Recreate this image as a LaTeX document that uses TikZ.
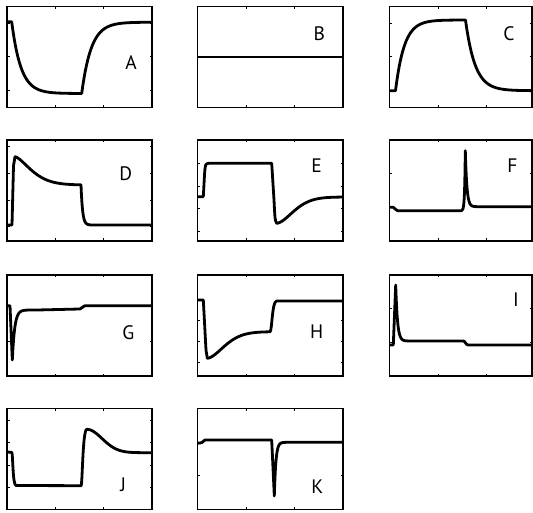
\documentclass[tikz,border=0pt]{standalone}
\usepackage{fontspec}
\setmainfont{PT Sans}
\newcommand{\plotbox}[2]{%
  \draw[frame] (0,0) rectangle (#1,101);
  \foreach \t in {48.3,96.7}{
    \draw[tick] (\t,0) -- (\t,2.5);
    \draw[tick] (\t,101) -- (\t,98.5);
  }
  \foreach \t in {#2}{
    \draw[tick] (0,\t) -- (2.5,\t);
    \draw[tick] (#1,\t) -- (#1-2.5,\t);
  }
}

\begin{document}
\begin{tikzpicture}[
    x=1pt, y=-1pt,
    frame/.style={line width=1.7pt},
    tick/.style={line width=0.5pt},
    curve/.style={line width=2.8pt, line join=round},
    lbl/.style={inner sep=0pt, font=\fontsize{19.5}{20}\selectfont}
  ]
  \useasboundingbox (0,0) rectangle (533,513);

  % A
  \begin{scope}[shift={(7,6.5)}]
    \plotbox{145}{16.8,50.2,83.5}
    \draw[curve] (0,15.3) -- (4.7,15.3)
      -- plot[domain=4.7:74.7,samples=60] (\x,{87-71.7*exp(-(\x-4.7)/9.2)})
      -- plot[domain=74.7:145,samples=60] (\x,{15.7+71.3*exp(-(\x-74.7)/9.5)});
  \end{scope}
  \node[lbl] (labA) at (131,62.3) {A};

  % B
  \begin{scope}[shift={(197.5,6.5)}]
    \plotbox{145.5}{50.6}
    \draw[curve] (0,50.6) -- (145.5,50.6);
  \end{scope}
  \node[lbl] (labB) at (319.3,33.3) {B};

  % C
  \begin{scope}[shift={(389.5,6.5)}]
    \plotbox{142.5}{16.8,50.2,83.5}
    \draw[curve] (0,84.2) -- (6,84.2)
      -- plot[domain=6:76,samples=60] (\x,{13.5+70.7*exp(-(\x-6)/8.8)})
      -- plot[domain=76:142.5,samples=60] (\x,{84.2-70.7*exp(-(\x-76)/9.6)});
  \end{scope}
  \node[lbl] (labC) at (509,33.3) {C};

  % D
  \begin{scope}[shift={(7,140)}]
    \plotbox{145}{6.7,33.3,60,86.7}
    \draw[curve] (0,85) -- (5,85) -- (6.5,26) -- (8,16.7)
      -- plot[domain=8.1:74,samples=50] (\x,{45-28.3*exp(-((\x-8)/22)^1.5)})
      -- plot[domain=74:95,samples=50] (\x,{85-40*exp(-(\x-74)/1.6)})
      -- (145,85);
  \end{scope}
  \node[lbl] (labD) at (125.7,173.3) {D};

  % E
  \begin{scope}[shift={(197.5,140)}]
    \plotbox{145.5}{23.3,45.8,68.3,90.8}
    \draw[curve] (0,56.7) -- (5.8,56.7) -- (7,35) .. controls (7.8,24) .. (11,23.3)
      -- (74.2,23.3) -- (76.5,60) .. controls (77.5,80) .. (79.2,83.3)
      -- plot[domain=79.3:145.5,samples=60] (\x,{57+26.3*exp(-((\x-79.2)/22.8)^1.7)});
  \end{scope}
  \node[lbl] (labE) at (316.7,166) {E};

  % F
  \begin{scope}[shift={(389.5,140)}]
    \plotbox{142.5}{33.3,67}
    \draw[curve] (0,67.3) -- (3.8,67.3) .. controls (5.5,67.3) and (5.5,70.7) .. (8,70.7)
      -- (72.5,70.7)
      -- plot[domain=72.5:75.8,samples=20] (\x,{70.7-60*exp((\x-75.8)/0.7)})
      -- plot[domain=75.8:92,samples=40] (\x,{66.7-56*exp(-(\x-75.8)/1.6)})
      -- (142.5,66.7);
  \end{scope}
  \node[lbl] (labF) at (512.3,166) {F};

  % G
  \begin{scope}[shift={(7,275)}]
    \plotbox{145}{30,66.7}
    \draw[curve] (0,30.7) -- (3,30.7) -- (5.3,85)
      -- plot[domain=5.3:30,samples=40] (\x,{35+50*exp(-(\x-5.3)/2.4)})
      -- (73,34) .. controls (75,34) and (75.5,30.7) .. (78,30.7) -- (145,30.7);
  \end{scope}
  \node[lbl] (labG) at (128.3,332.7) {G};

  % H
  \begin{scope}[shift={(197.5,275)}]
    \plotbox{145.5}{25,45,66,87}
    \draw[curve] (0,25) -- (5.8,25) -- (8.5,75) -- (9.8,83.3)
      -- plot[domain=9.9:72.5,samples=50] (\x,{56.7+26.6*exp(-((\x-9.8)/23)^1.7)})
      .. controls (74.5,56.7) and (74.5,26.5) .. (79,26) -- (145.5,26);
  \end{scope}
  \node[lbl] (labH) at (316.7,331.7) {H};

  % I
  \begin{scope}[shift={(389.5,275)}]
    \plotbox{142.5}{33.3,67}
    \draw[curve] (0,70) -- (3.8,70) -- (6.2,10)
      -- plot[domain=6.2:20,samples=40] (\x,{66-56*exp(-(\x-6.2)/1.8)})
      -- (73.8,66) .. controls (76,66) and (76,70) .. (78.8,70) -- (142.5,70);
  \end{scope}
  \node[lbl] (labI) at (516,299.3) {I};

  % J
  \begin{scope}[shift={(7,408.5)}]
    \plotbox{145}{11.5,34,56.5,78.5}
    \draw[curve] (0,43.5) -- (4.7,43.8) .. controls (6,44) and (5.5,76.5) .. (9,77)
      -- (74,77.2) .. controls (75.5,77.2) and (75.5,22) .. (79.7,20.8)
      -- plot[domain=79.7:145,samples=60] (\x,{44.2-23.4*exp(-((\x-79.7)/21.6)*((\x-79.7)/21.6))});
  \end{scope}
  \node[lbl] (labJ) at (123.3,485) {J};

  % K
  \begin{scope}[shift={(197.5,408.5)}]
    \plotbox{145.5}{33.3,66.5}
    \draw[curve] (0,34.8) -- (4.2,34.2) -- (7.5,31.5) -- (74.2,31.5) -- (76.8,87.5)
      -- plot[domain=76.8:95,samples=40] (\x,{33.8+53.7*exp(-(\x-76.8)/1.6)})
      -- (145.5,33.8);
  \end{scope}
  \node[lbl] (labK) at (317.3,486.7) {K};
\end{tikzpicture}
\end{document}
